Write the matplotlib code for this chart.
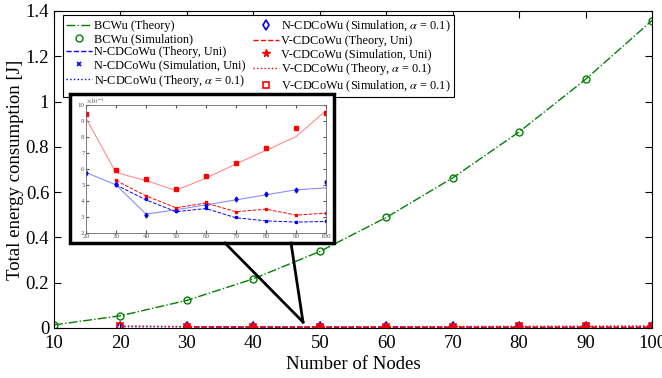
import matplotlib.pyplot as plt
from matplotlib.lines import Line2D
from matplotlib.patches import Rectangle
from matplotlib.ticker import FormatStrFormatter

plt.rcParams['font.family'] = ['Liberation Serif', 'DejaVu Serif']
plt.rcParams['mathtext.fontset'] = 'stix'

# data
nodes = [10, 20, 30, 40, 50, 60, 70, 80, 90, 100]
nodes_cd = [20, 30, 40, 50, 60, 70, 80, 90, 100]
nodes_uni = [30, 40, 50, 60, 70, 80, 90, 100]

bcwu_theory = [0.0136, 0.054, 0.122, 0.217, 0.338, 0.488, 0.663, 0.866, 1.098, 1.358]
bcwu_sim = [0.0136, 0.054, 0.122, 0.217, 0.338, 0.488, 0.663, 0.866, 1.098, 1.358]

# CDCoWu values in units of 1e-3 J
n_uni_theory = [5.01, 4.07, 3.33, 3.53, 2.95, 2.76, 2.68, 2.72]
n_uni_sim = [5.03, 4.10, 3.35, 3.55, 2.97, 2.78, 2.68, 2.74]
n_a_theory = [5.78, 5.01, 3.18, 3.45, 3.76, 4.07, 4.39, 4.70, 4.82]
n_a_sim = [5.78, 5.05, 3.14, 3.41, 3.74, 4.12, 4.41, 4.70, 5.16]
v_uni_theory = [5.28, 4.32, 3.58, 3.87, 3.33, 3.49, 3.12, 3.24]
v_uni_sim = [5.32, 4.32, 3.58, 3.91, 3.33, 3.51, 3.12, 3.26]
v_a_theory = [9.17, 5.78, 5.28, 4.66, 5.43, 6.32, 7.17, 8.02, 9.65]
v_a_sim = [9.44, 5.95, 5.36, 4.74, 5.55, 6.40, 7.30, 8.54, 9.52]

def J(vals):
    return [v * 1e-3 for v in vals]

green = (0, 0.5, 0)
fig = plt.figure(figsize=(6.62, 3.78), dpi=100)
ax = fig.add_axes([0.0816, 0.1323, 0.9033, 0.8386])

ax.plot(nodes, bcwu_theory, '-.', color=green, lw=1, label='BCWu (Theory)')
ax.plot(nodes, bcwu_sim, 'o', color=green, mfc='none', ms=5, mew=1, label='BCWu (Simulation)')
ax.plot(nodes_uni, J(n_uni_theory), '--', color='b', lw=1, label='N-CDCoWu (Theory, Uni)')
ax.plot(nodes_uni, J(n_uni_sim), 'x', color='b', ms=3.5, mew=1.2, label='N-CDCoWu (Simulation, Uni)')
ax.plot(nodes_cd, J(n_a_theory), ':', color='b', lw=1, label=r'N-CDCoWu (Theory, $\alpha$ = 0.1)')
ax.plot(nodes_cd, J(n_a_sim), 'd', color='b', mfc='none', ms=5, mew=1.2, label=r'N-CDCoWu (Simulation, $\alpha$ = 0.1)')
ax.plot(nodes_uni, J(v_uni_theory), '--', color='r', lw=1, label='V-CDCoWu (Theory, Uni)')
ax.plot(nodes_uni, J(v_uni_sim), '*', color='r', ms=5.5, label='V-CDCoWu (Simulation, Uni)')
ax.plot(nodes_cd, J(v_a_theory), ':', color='r', lw=1, label=r'V-CDCoWu (Theory, $\alpha$ = 0.1)')
ax.plot(nodes_cd, J(v_a_sim), 's', color='r', mfc='none', ms=4, mew=1.2, label=r'V-CDCoWu (Simulation, $\alpha$ = 0.1)')

ax.set_xlim(10, 100)
ax.set_ylim(0, 1.4)
ax.set_xticks(nodes)
ax.set_yticks([0, 0.2, 0.4, 0.6, 0.8, 1.0, 1.2, 1.4])
ax.yaxis.set_major_formatter(FormatStrFormatter('%g'))
ax.tick_params(direction='in', top=True, right=True, labelsize=13.5, length=5)
ax.tick_params(axis='x', pad=5)
ax.set_xlabel('Number of Nodes', fontsize=13.5, labelpad=3)
ax.set_ylabel('Total energy consumption [J]', fontsize=13.5, labelpad=1)

leg = ax.legend(ncol=2, loc='upper left', bbox_to_anchor=(0.015, 0.987), borderaxespad=0,
                fontsize=8.8, fancybox=False, framealpha=1, edgecolor='k',
                handlelength=2.1, handletextpad=0.2, columnspacing=0.6,
                labelspacing=0.1, borderpad=0.25)
leg.get_frame().set_linewidth(0.8)

# callout frame and connector
fig.add_artist(Rectangle((0.1057, 0.357), 0.3988, 0.394, transform=fig.transFigure,
                         fill=True, facecolor='white', edgecolor='k', lw=2.5, zorder=5))
tip = (0.4577, 0.1481)
for x0 in (0.3399, 0.4396):
    fig.add_artist(Line2D([x0, tip[0]], [0.357, tip[1]], transform=fig.transFigure,
                          color='k', lw=2, zorder=5))

# inset
ins = fig.add_axes([0.1299, 0.3836, 0.3625, 0.3386], zorder=6)
light_r = '#ff8c8c'
light_b = '#8c8cff'
ins.plot(nodes_cd, J(v_a_theory), '-', color=light_r, lw=0.8)
ins.plot(nodes_cd, J(v_a_sim), 's', color='r', ms=2.2)
ins.plot(nodes_cd, J(n_a_theory), '-', color=light_b, lw=0.8)
ins.plot(nodes_cd, J(n_a_sim), 'd', color='b', ms=2.5)
ins.plot(nodes_uni, J(v_uni_theory), '--', color='r', lw=0.7)
ins.plot(nodes_uni, J(v_uni_sim), 's', color='r', ms=1.8)
ins.plot(nodes_uni, J(n_uni_theory), '--', color='b', lw=0.7)
ins.plot(nodes_uni, J(n_uni_sim), 's', color='b', ms=1.8)
ins.set_xlim(20, 100)
ins.set_ylim(2e-3, 10e-3)
ins.set_xticks(nodes_cd)
ins.set_yticks([v * 1e-3 for v in range(2, 11)])
ins.set_yticklabels([str(v) for v in range(2, 11)])
ins.tick_params(direction='in', top=True, right=True, labelsize=5, length=2,
                colors='#555555', pad=1)
for s in ins.spines.values():
    s.set_color('#666666')
    s.set_linewidth(0.6)
ins.text(0.0, 1.0, r'$\times 10^{-3}$', transform=ins.transAxes, fontsize=5,
         color='#555555', va='bottom', ha='left')

fig.savefig('out.png', dpi=100)
